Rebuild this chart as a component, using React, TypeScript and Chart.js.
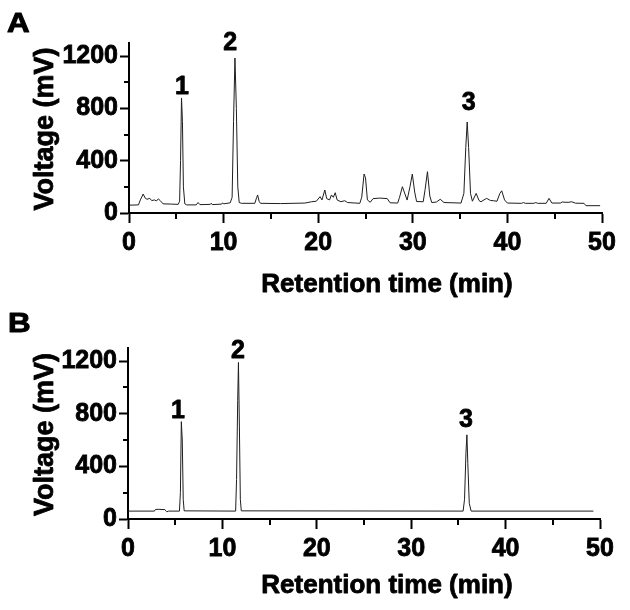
import React, { useEffect, useRef } from "react";
import { Chart, registerables } from "chart.js";

Chart.register(...registerables);

// ---------- data ----------
// Panel A: crude extract chromatogram
const timeA = [
  0.1, 1.0, 1.2, 1.5, 1.7, 1.9, 2.2, 2.4, 2.7, 2.9, 3.1, 3.3, 3.6, 4.5, 5.2,
  5.35, 5.45, 5.55, 5.65, 5.75, 5.9, 6.1, 7.1, 7.3, 7.5, 8.6, 8.7, 8.8, 9.8, 9.9,
  10.0, 10.7, 10.9, 11.05, 11.2, 11.35, 11.5, 11.65, 11.9, 13.3, 13.5, 13.6, 13.75, 13.9, 16.0,
  18.6, 19.3, 19.8, 20.2, 20.4, 20.7, 20.9, 21.2, 21.4, 21.6, 21.8, 22.0, 22.4, 22.8, 23.1,
  24.4, 24.6, 24.85, 25.0, 25.2, 25.5, 25.8, 26.5, 27.3, 27.6, 28.4, 28.6, 28.9, 29.1, 29.4,
  29.7, 29.95, 30.2, 30.4, 31.1, 31.3, 31.55, 31.8, 32.0, 32.5, 32.9, 33.3, 35.1, 35.4, 35.6,
  35.75, 35.9, 36.1, 36.3, 36.7, 37.0, 37.2, 37.8, 38.2, 38.5, 38.9, 39.2, 39.4, 39.7, 40.0,
  41.5, 41.7, 41.9, 42.8, 43.0, 43.2, 44.1, 44.4, 44.7, 45.6, 45.8, 46.1, 46.5, 46.8, 47.2,
  48.1, 48.3, 49.8,
];
const voltA = [
  60, 62, 100, 145, 115, 105, 112, 95, 100, 92, 108, 95, 70, 68, 66,
  90, 400, 880, 700, 200, 70, 62, 62, 80, 64, 66, 75, 64, 68, 78,
  70, 78, 120, 700, 1185, 800, 200, 80, 74, 74, 120, 138, 90, 74, 72,
  76, 86, 90, 125, 100, 176, 110, 100, 138, 120, 155, 100, 86, 94, 80,
  74, 120, 298, 270, 100, 82, 110, 114, 110, 78, 76, 120, 201, 160, 99,
  200, 298, 160, 88, 86, 180, 316, 130, 80, 84, 105, 80, 76, 150, 500,
  696, 500, 150, 90, 150, 95, 86, 112, 96, 94, 90, 150, 170, 100, 76,
  74, 80, 74, 74, 80, 74, 74, 112, 76, 76, 84, 82, 82, 86, 75,
  74, 56, 56,
];

// Panel B: purified sample chromatogram
const timeB = [
  0.0, 2.8, 2.9, 3.2, 3.6, 3.9, 4.0, 4.1, 4.3, 5.45, 5.55, 5.65, 5.75, 5.85, 5.95,
  11.4, 11.5, 11.62, 11.7, 11.8, 11.9, 12.0, 35.5, 35.65, 35.8, 35.9, 36.0, 36.15, 36.35, 49.3,
];
const voltB = [
  60, 60, 72, 74, 72, 72, 62, 55, 60, 60, 200, 740, 600, 150, 62,
  60, 300, 900, 1190, 700, 150, 62, 60, 150, 500, 640, 420, 120, 60, 60,
];

const peakNames = ["1", "2", "3"];
const peakLabelTimeA = [5.6, 10.7, 35.9];
const peakLabelVoltA = [910, 1245, 787];
const peakLabelTimeB = [5.3, 11.65, 35.8];
const peakLabelVoltB = [767, 1222, 699];

const xMajorTicks = [0, 10, 20, 30, 40, 50];
const xMinorTicks = [5, 15, 25, 35, 45];
const yMajorTicks = [0, 400, 800, 1200];
const yMinorTicks = [200, 600, 1000];

const X_TITLE = "Retention time (min)";
const Y_TITLE = "Voltage (mV)";

const FONT = "'Liberation Sans', Arial, Helvetica, sans-serif";
const W = 630;
const H = 305;

type PanelCfg = {
  letter: string;
  times: number[];
  volts: number[];
  labelT: number[];
  labelV: number[];
  left: number;
  right: number;
  top: number;
  bottom: number;
  letterX: number;
  letterBase: number;
  xTitleX: number;
  xTitleBase: number;
};

const panelA: PanelCfg = {
  letter: "A",
  times: timeA,
  volts: voltA,
  labelT: peakLabelTimeA,
  labelV: peakLabelVoltA,
  left: 129,
  right: 602,
  top: 43,
  bottom: 213,
  letterX: 7,
  letterBase: 32,
  xTitleX: 387,
  xTitleBase: 292,
};

const panelB: PanelCfg = {
  letter: "B",
  times: timeB,
  volts: voltB,
  labelT: peakLabelTimeB,
  labelV: peakLabelVoltB,
  left: 128,
  right: 600,
  top: 42,
  bottom: 213,
  letterX: 8,
  letterBase: 26,
  xTitleX: 387,
  xTitleBase: 287,
};

function heavyText(ctx: CanvasRenderingContext2D, s: string, x: number, y: number, w = 0.8) {
  ctx.lineWidth = w;
  ctx.lineJoin = "round";
  ctx.strokeText(s, x, y);
  ctx.fillText(s, x, y);
}

function makeChart(canvas: HTMLCanvasElement, cfg: PanelCfg) {
  const decor = {
    id: "decor",
    afterDraw(chart: any) {
      const { ctx, chartArea } = chart;
      const xs = chart.scales.x;
      const ys = chart.scales.y;
      ctx.save();
      // minor ticks
      ctx.strokeStyle = "#000";
      ctx.lineWidth = 2;
      ctx.beginPath();
      for (const v of xMinorTicks) {
        const px = Math.round(xs.getPixelForValue(v));
        ctx.moveTo(px, chartArea.bottom);
        ctx.lineTo(px, chartArea.bottom + 6);
      }
      for (const v of yMinorTicks) {
        const py = Math.round(ys.getPixelForValue(v));
        ctx.moveTo(chartArea.left - 5, py);
        ctx.lineTo(chartArea.left, py);
      }
      ctx.stroke();

      ctx.fillStyle = "#000";
      ctx.strokeStyle = "#000";
      // peak labels
      ctx.font = `bold 25px ${FONT}`;
      ctx.textAlign = "center";
      ctx.textBaseline = "alphabetic";
      cfg.labelT.forEach((t, i) => {
        heavyText(ctx, peakNames[i], xs.getPixelForValue(t), ys.getPixelForValue(cfg.labelV[i]));
      });

      // x title
      ctx.font = `bold 26px ${FONT}`;
      heavyText(ctx, X_TITLE, cfg.xTitleX, cfg.xTitleBase);

      // y title
      ctx.save();
      ctx.font = `bold 27px ${FONT}`;
      ctx.translate(53, (chartArea.top + chartArea.bottom) / 2 + 1);
      ctx.rotate(-Math.PI / 2);
      heavyText(ctx, Y_TITLE, 0, 0);
      ctx.restore();

      // panel letter
      ctx.save();
      ctx.font = `bold 28px ${FONT}`;
      ctx.textAlign = "left";
      ctx.translate(cfg.letterX, cfg.letterBase);
      ctx.scale(1.12, 1);
      heavyText(ctx, cfg.letter, 0, 0, 1);
      ctx.restore();

      ctx.restore();
    },
  };

  const tickFont = { family: FONT, size: 25, weight: "bold" as const };

  return new Chart(canvas, {
    type: "line",
    data: {
      datasets: [
        {
          data: cfg.times.map((t, i) => ({ x: t, y: cfg.volts[i] })),
          borderColor: "#1e1e1e",
          borderWidth: 1,
          pointRadius: 0,
          tension: 0,
          fill: false,
        },
      ],
    },
    options: {
      animation: false,
      responsive: false,
      maintainAspectRatio: false,
      devicePixelRatio: 1,
      layout: { padding: { left: 0, top: cfg.top, right: W - cfg.right, bottom: 0 } },
      plugins: {
        legend: { display: false },
        tooltip: { enabled: false },
        title: { display: false },
      },
      scales: {
        x: {
          type: "linear",
          min: 0,
          max: 50,
          ticks: {
            stepSize: 5,
            autoSkip: false,
            maxRotation: 0,
            padding: 5,
            color: "#000",
            textStrokeColor: "#000",
            textStrokeWidth: 0.8,
            font: tickFont,
            callback: (v: any) => (xMajorTicks.includes(Number(v)) ? String(v) : ""),
          },
          grid: {
            display: true,
            drawOnChartArea: false,
            drawTicks: true,
            tickLength: 10,
            tickWidth: 2,
            tickColor: (c: any) =>
              c.tick && xMajorTicks.includes(c.tick.value) ? "#000" : "rgba(0,0,0,0)",
          },
          border: { display: true, color: "#000", width: 2 },
          afterFit: (s: any) => {
            s.height = H - cfg.bottom;
          },
        },
        y: {
          type: "linear",
          min: 0,
          max: 1300,
          ticks: {
            stepSize: 200,
            includeBounds: false,
            autoSkip: false,
            padding: 2,
            color: "#000",
            textStrokeColor: "#000",
            textStrokeWidth: 0.8,
            font: tickFont,
            callback: (v: any) => (yMajorTicks.includes(Number(v)) ? String(v) : ""),
          },
          grid: {
            display: true,
            drawOnChartArea: false,
            drawTicks: true,
            tickLength: 9,
            tickWidth: 2,
            tickColor: (c: any) =>
              c.tick && yMajorTicks.includes(c.tick.value) ? "#000" : "rgba(0,0,0,0)",
          },
          border: { display: true, color: "#000", width: 2 },
          afterFit: (s: any) => {
            s.width = cfg.left;
          },
        },
      },
    },
    plugins: [decor],
  } as any);
}

export default function App() {
  const refA = useRef<HTMLCanvasElement>(null);
  const refB = useRef<HTMLCanvasElement>(null);

  useEffect(() => {
    const a = refA.current ? makeChart(refA.current, panelA) : null;
    const b = refB.current ? makeChart(refB.current, panelB) : null;
    return () => {
      a?.destroy();
      b?.destroy();
    };
  }, []);

  return (
    <div
      style={{
        position: "fixed",
        left: 0,
        top: 0,
        width: W,
        height: 610,
        background: "#fff",
      }}
    >
      <canvas
        ref={refA}
        width={W}
        height={H}
        style={{ position: "absolute", left: 0, top: 0, width: W, height: H }}
      />
      <canvas
        ref={refB}
        width={W}
        height={H}
        style={{ position: "absolute", left: 0, top: 306, width: W, height: H }}
      />
    </div>
  );
}
